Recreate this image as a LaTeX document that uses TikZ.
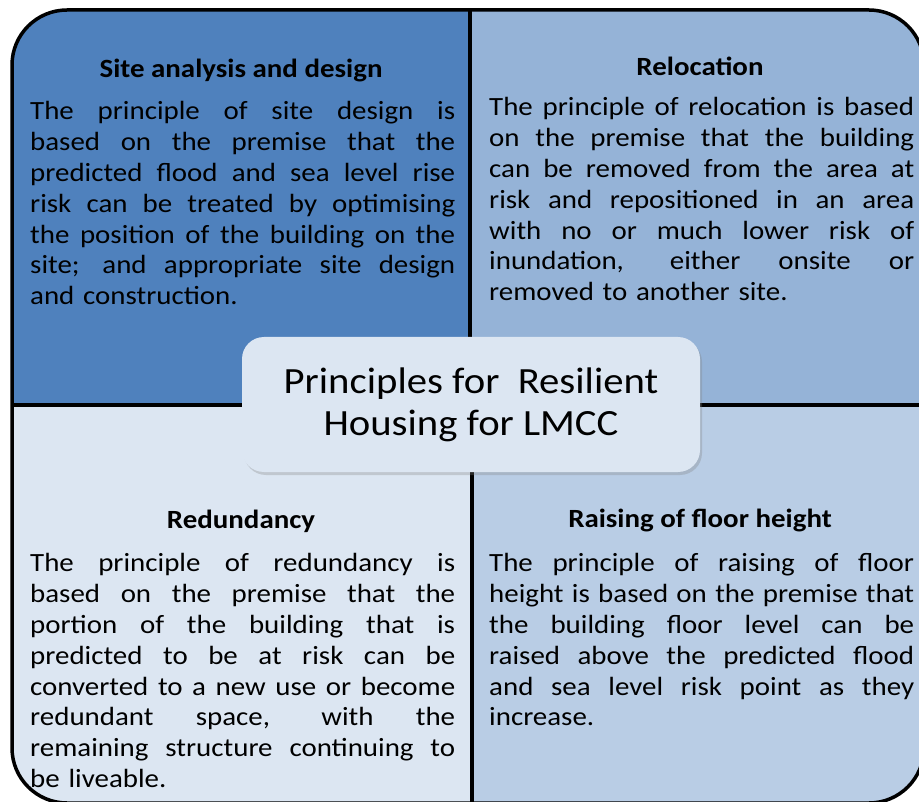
\documentclass[tikz,border=0pt]{standalone}
\usepackage{fontspec}
\setmainfont{Carlito}[FakeStretch=1.10]
\usetikzlibrary{shadows}
\definecolor{qA}{HTML}{4F81BD}
\definecolor{qB}{HTML}{95B3D7}
\definecolor{qC}{HTML}{DCE6F2}
\definecolor{qD}{HTML}{B9CDE5}
\definecolor{cbox}{HTML}{DCE6F2}
\newcommand\jl[1]{{\spaceskip=0pt\xspaceskip=0pt\makebox[425pt][s]{#1}}\\}
\begin{document}
\begin{tikzpicture}[x=1pt,y=-1pt,
  heading/.style={font=\bfseries\fontsize{26.3}{30}\selectfont, inner sep=0pt},
  body/.style={anchor=north west, inner sep=0pt, text width=425pt, align=left,
    font=\fontsize{26.3}{30.9}\selectfont},
  divider/.style={line width=3.5pt, black},
  outer/.style={rounded corners=55pt},
  centerbox/.style={fill=cbox, rounded corners=22pt, minimum width=458pt, minimum height=135pt,
    align=center, font=\fontsize{37}{42}\selectfont,
    drop shadow={opacity=0.3, shadow xshift=2pt, shadow yshift=-3pt}}]
\useasboundingbox (0,0) rectangle (919,802);
\begin{scope}
  \clip[outer] (12,10) rectangle (924,803);
  \fill[qA] (0,0) rectangle (471,405);
  \fill[qB] (471,0) rectangle (930,405);
  \fill[qC] (0,405) rectangle (471,810);
  \fill[qD] (471,405) rectangle (930,810);
\end{scope}
\coordinate (vt) at (470,10);
\coordinate (vm) at (470,405);
\coordinate (vm2) at (472,405);
\coordinate (vb) at (472,803);
\coordinate (hl) at (12,405);
\coordinate (hr) at (924,405);
\draw[divider] (vt) -- (vm);
\draw[divider] (vm2) -- (vb);
\draw[divider] (hl) -- (hr);
\draw[line width=3.5pt, outer] (12,10) rectangle (924,803);

\node[heading] (h1) at (241,71) {Site analysis and design};
\node[heading] (h2) at (700,66) {Relocation};
\node[heading] (h3) at (241,521) {Redundancy};
\node[heading] (h4) at (700,521) {Raising of floor height};

\node[body] (b1) at (30,101) {%
\jl{The principle of site design is}
\jl{based on the premise that the}
\jl{predicted flood and sea level rise}
\jl{risk can be treated by optimising}
\jl{the position of the building on the}
\jl{site; and appropriate site design}
and construction.};

\node[body] (b2) at (489,97) {%
\jl{The principle of relocation is based}
\jl{on the premise that the building}
\jl{can be removed from the area at}
\jl{risk and repositioned in an area}
\jl{with no or much lower risk of}
\jl{inundation, either onsite or}
removed to another site.};

\node[body] (b3) at (30,553) {%
\jl{The principle of redundancy is}
\jl{based on the premise that the}
\jl{portion of the building that is}
\jl{predicted to be at risk can be}
\jl{converted to a new use or become}
\jl{redundant space, with the}
\jl{remaining structure continuing to}
be liveable.};

\node[body] (b4) at (489,553) {%
\jl{The principle of raising of floor}
\jl{height is based on the premise that}
\jl{the building floor level can be}
\jl{raised above the predicted flood}
\jl{and sea level risk point as they}
increase.};

\node[centerbox] (c) at (471,404.5) {Principles for\ \ Resilient\\Housing for LMCC};
\end{tikzpicture}
\end{document}
